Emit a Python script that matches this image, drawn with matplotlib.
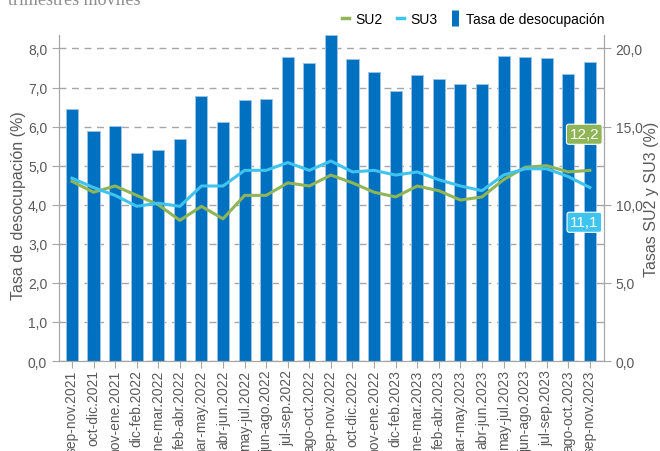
import matplotlib
matplotlib.use("Agg")
import matplotlib.pyplot as plt
from matplotlib.lines import Line2D
from matplotlib.ticker import FuncFormatter

plt.rcParams['font.family'] = ['Liberation Sans', 'DejaVu Sans']

periodos = ["sep-nov.2021", "oct-dic.2021", "nov-ene.2021", "dic-feb.2022", "ene-mar.2022",
            "feb-abr.2022", "mar-may.2022", "abr-jun.2022", "may-jul.2022", "jun-ago.2022",
            "jul-sep.2022", "ago-oct.2022", "sep-nov.2022", "oct-dic.2022", "nov-ene.2022",
            "dic-feb.2023", "ene-mar.2023", "feb-abr.2023", "mar-may.2023", "abr-jun.2023",
            "may-jul.2023", "jun-ago.2023", "jul-sep.2023", "ago-oct.2023", "sep-nov.2023"]

desocupacion = [6.44, 5.88, 6.02, 5.32, 5.40, 5.69, 6.78, 6.12, 6.67, 6.70,
                7.77, 7.64, 8.34, 7.73, 7.40, 6.91, 7.32, 7.21, 7.08, 7.08,
                7.80, 7.78, 7.75, 7.34, 7.65]

su2 = [11.5, 10.8, 11.2, 10.6, 10.0, 9.0, 9.9, 9.1, 10.6, 10.6,
       11.4, 11.2, 11.9, 11.4, 10.8, 10.5, 11.2, 10.9, 10.3, 10.5,
       11.6, 12.4, 12.5, 12.1, 12.2]

su3 = [11.7, 11.1, 10.6, 9.9, 10.1, 9.9, 11.2, 11.2, 12.2, 12.2,
       12.7, 12.2, 12.8, 12.1, 12.2, 11.9, 12.1, 11.6, 11.2, 10.9,
       11.9, 12.3, 12.3, 11.8, 11.1]

azul = "#0070c0"
verde = "#8fb557"
celeste = "#3fc4f0"
gris = "#595959"

fig = plt.figure(figsize=(6.6, 4.52), dpi=100)
ax = fig.add_axes([0.0894, 0.199, 0.8256, 0.721])
ax2 = ax.twinx()

x = list(range(len(periodos)))
ax.bar(x, desocupacion, width=0.56, color=azul, edgecolor="#9dc3e6", linewidth=0.6, zorder=2)
ax.set_ylim(0, 8.34)
ax.set_xlim(-0.6, 24.65)
ax.set_yticks(range(0, 9))
ax.yaxis.set_major_formatter(FuncFormatter(lambda v, p: f"{v:.1f}".replace(".", ",")))
ax.grid(axis="y", color="#a6a6a6", linestyle=(0, (5, 4)), linewidth=1, zorder=0)
ax.set_axisbelow(True)
ax.set_xticks(x)
ax.set_xticklabels(periodos, rotation=90, color=gris)
ax.set_ylabel("Tasa de desocupación (%)", fontsize=11.5, color=gris, va="center")
ax.yaxis.set_label_coords(-0.075, 0.48)

ax2.plot(x, su2, color=verde, linewidth=2.2, zorder=3)
ax2.plot(x, su3, color=celeste, linewidth=2.2, zorder=3)
ax2.set_ylim(0, 8.34 * 2.5)
ax2.set_yticks(range(0, 21, 5))
ax2.yaxis.set_major_formatter(FuncFormatter(lambda v, p: f"{v:.1f}".replace(".", ",")))
ax2.set_ylabel("Tasas SU2 y SU3 (%)", fontsize=11.5, color=gris, rotation=90, va="center")
ax2.yaxis.set_label_coords(1.088, 0.5)

for a in (ax, ax2):
    a.spines["top"].set_visible(False)
    for s in ("left", "right", "bottom"):
        a.spines[s].set_color("#a6a6a6")
    a.tick_params(colors="#a6a6a6", labelcolor=gris, labelsize=10, length=5)
ax.tick_params(axis="x", labelsize=10, pad=1)

ax2.annotate(f"{su2[-1]:.1f}".replace(".", ","), xy=(x[-1], su2[-1]), xytext=(-4, 26),
             textcoords="offset points", ha="center", va="center", color="white", fontsize=11,
             bbox=dict(boxstyle="round,pad=0.2,rounding_size=0.15", fc=verde, ec="white", lw=0.8))
ax2.annotate(f"{su3[-1]:.1f}".replace(".", ","), xy=(x[-1], su3[-1]), xytext=(-4, -25),
             textcoords="offset points", ha="center", va="center", color="white", fontsize=11,
             bbox=dict(boxstyle="round,pad=0.2,rounding_size=0.15", fc=celeste, ec="white", lw=0.8))

handles = [Line2D([], [], color=verde, linewidth=2.5),
           Line2D([], [], color=celeste, linewidth=2.5),
           Line2D([], [], color=azul, marker="|", markersize=12, markeredgewidth=5, linestyle="none")]
fig.legend(handles, ["SU2", "SU3", "Tasa de desocupación"], loc="center right",
           bbox_to_anchor=(604 / 660, 1 - 20 / 452), ncol=3, frameon=False, fontsize=10,
           handlelength=0.5, handletextpad=0.5, columnspacing=1.0, borderaxespad=0, borderpad=0)

fig.text(0.012, 1 - 5 / 452, "trimestres móviles", family="Liberation Serif", fontsize=13,
         color="#8c8c8c", ha="left", va="baseline")

fig.savefig("out.png", dpi=100)
